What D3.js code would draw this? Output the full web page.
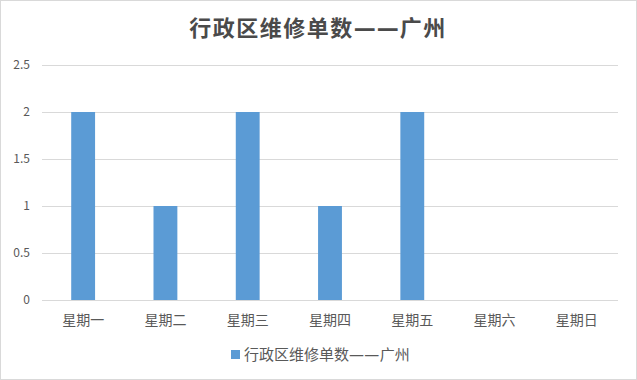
<!DOCTYPE html>
<html>
<head>
<meta charset="utf-8">
<script src="https://cdn.jsdelivr.net/npm/d3@7"></script>
<style>
  body { margin: 0; background: #fff; }
  text { font-family: "Noto Sans CJK SC", "Noto Sans", sans-serif; }
  tspan.dash { font-family: "DejaVu Sans", sans-serif; }
</style>
</head>
<body>
<svg id="chart" width="637" height="380"></svg>
<script>
const title = '行政区维修单数——广州';
const seriesName = '行政区维修单数——广州';
const days = ['星期一', '星期二', '星期三', '星期四', '星期五', '星期六', '星期日'];
const counts = [2, 1, 2, 1, 2, 0, 0];
const yTicks = [0, 0.5, 1, 1.5, 2, 2.5];

const svg = d3.select('#chart');
const width = +svg.attr('width');
const height = +svg.attr('height');
const margin = { top: 65, right: 19, bottom: 80, left: 42 };

// chart border
svg.append('rect')
  .attr('x', 0.5).attr('y', 0.5)
  .attr('width', width - 1).attr('height', height - 1)
  .attr('fill', '#fff')
  .attr('stroke', '#d9d9d9');

const x = d3.scaleBand()
  .domain(days)
  .range([margin.left, width - margin.right])
  .paddingInner(0.71)
  .paddingOuter(0.355);

const y = d3.scaleLinear()
  .domain([0, 2.5])
  .range([height - margin.bottom, margin.top]);

// gridlines
svg.append('g')
  .selectAll('line')
  .data(yTicks)
  .enter()
  .append('line')
  .attr('x1', margin.left)
  .attr('x2', width - margin.right)
  .attr('y1', d => Math.round(y(d)) + 0.5)
  .attr('y2', d => Math.round(y(d)) + 0.5)
  .attr('stroke', '#d9d9d9')
  .attr('stroke-width', 1);

// y tick labels
svg.append('g')
  .selectAll('text')
  .data(yTicks)
  .enter()
  .append('text')
  .attr('x', 30)
  .attr('y', d => y(d))
  .attr('dy', '0.35em')
  .attr('text-anchor', 'end')
  .attr('font-size', 12)
  .attr('fill', '#595959')
  .text(d => d);

// bars
svg.append('g')
  .selectAll('rect')
  .data(counts)
  .enter()
  .append('rect')
  .attr('x', (d, i) => x(days[i]))
  .attr('y', d => y(d))
  .attr('width', x.bandwidth())
  .attr('height', d => y(0) - y(d))
  .attr('fill', '#5b9bd5');

// x labels
svg.append('g')
  .selectAll('text')
  .data(days)
  .enter()
  .append('text')
  .attr('x', d => x(d) + x.bandwidth() / 2)
  .attr('y', y(0) + 25)
  .attr('text-anchor', 'middle')
  .attr('font-size', 14)
  .attr('fill', '#595959')
  .text(d => d);

// dashes drawn in another font with a gap, so they stay two separate strokes
function withDashes(sel, str, gap) {
  let buf = '';
  Array.from(str).forEach(c => {
    if (c === '—') {
      if (buf) sel.append('tspan').text(buf);
      buf = '';
      sel.append('tspan').attr('class', 'dash').attr('letter-spacing', gap).text(c);
    } else {
      buf += c;
    }
  });
  if (buf) sel.append('tspan').text(buf);
}

// title
const titleText = svg.append('text')
  .attr('x', 318)
  .attr('y', 36)
  .attr('text-anchor', 'middle')
  .attr('font-size', 22)
  .attr('font-weight', 'bold')
  .attr('letter-spacing', 1.5)
  .attr('fill', '#4a4a4a');
withDashes(titleText, title, 1);

// legend
const legend = svg.append('g').attr('transform', 'translate(231,350)');
legend.append('rect')
  .attr('width', 9).attr('height', 9)
  .attr('fill', '#5b9bd5');
const legendText = legend.append('text')
  .attr('x', 13)
  .attr('y', 4.5)
  .attr('dy', '0.35em')
  .attr('font-size', 15)
  .attr('fill', '#595959');
withDashes(legendText, seriesName, 0.3);
</script>
</body>
</html>
